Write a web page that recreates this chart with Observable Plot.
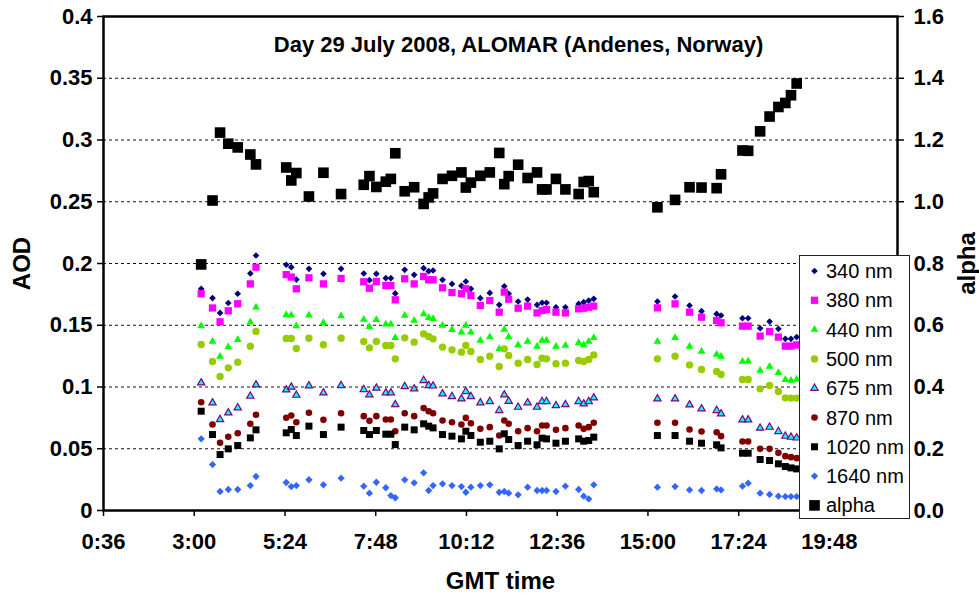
<!DOCTYPE html>
<html>
<head>
<meta charset="utf-8">
<script src="https://cdn.jsdelivr.net/npm/d3@7"></script>
<script src="https://cdn.jsdelivr.net/npm/@observablehq/plot@0.6"></script>
<style>
  body { margin: 0; background: #fff; }
  #wrap { position: relative; width: 979px; height: 594px; overflow: hidden; }
  #legend { position: absolute; left: 0; top: 0; }
</style>
</head>
<body>
<div id="wrap"></div>
<script>
// ---------- data ----------
const times = ["3:11","3:29","3:41","3:54","4:09","4:29","4:38","5:26","5:34","5:42",
  "6:02","6:25","6:53","7:29","7:38","7:49","8:04","8:12","8:19","8:34",
  "8:49","9:04","9:12","9:19","9:34","9:49","10:04","10:11","10:19","10:34",
  "10:49","11:04","11:12","11:19","11:34","11:49","12:04","12:12","12:19","12:34",
  "12:49","13:10","13:18","13:26","13:34",
  "15:15","15:43","16:06","16:25","16:49","16:56","17:30","17:39","17:58","18:13",
  "18:27","18:38","18:47","18:56"];

const aod340 = [0.1795,0.172,0.160,0.168,0.1755,0.192,0.2065,0.199,0.197,0.187,
  0.1957,0.1916,0.1957,0.1919,0.1865,0.1916,0.1881,0.1881,0.1758,0.1949,
  0.1908,0.1962,0.1938,0.1943,0.1868,0.1835,0.1819,0.1854,0.1795,0.1719,
  0.1762,0.1665,0.1816,0.1755,0.1692,0.1708,0.1665,0.1682,0.1682,0.1646,
  0.1646,0.1673,0.1687,0.170,0.1714,
  0.1692,0.1733,0.166,0.1614,0.1592,0.1579,0.1557,0.1557,0.1476,0.153,
  0.1471,0.139,0.139,0.1404];
const aod380 = [0.1755,0.164,0.1528,0.1617,0.1674,0.1835,0.197,0.191,0.189,0.1795,
  0.1884,0.1835,0.1879,0.1852,0.180,0.1854,0.1822,0.1822,0.1706,0.1876,
  0.1835,0.1895,0.1868,0.1868,0.1803,0.1765,0.1755,0.1795,0.1741,0.166,
  0.170,0.1606,0.1768,0.1711,0.1638,0.1655,0.160,0.1619,0.1628,0.1606,
  0.160,0.1633,0.1638,0.1646,0.1655,
  0.1641,0.1673,0.1606,0.1565,0.1538,0.152,0.1493,0.1493,0.1412,0.1449,
  0.1404,0.1331,0.1331,0.1341];
const aod440 = [0.1493,0.1368,0.1247,0.1323,0.1382,0.1525,0.1646,0.1584,0.158,0.1493,
  0.158,0.152,0.1574,0.1547,0.1487,0.1544,0.1508,0.1508,0.1398,0.1579,
  0.1538,0.1592,0.156,0.1552,0.1498,0.1463,0.1444,0.1498,0.1444,0.1377,
  0.1404,0.1309,0.1466,0.1404,0.1341,0.1368,0.1328,0.1377,0.1377,0.1328,
  0.1336,0.1358,0.1341,0.1368,0.1398,
  0.1368,0.1398,0.1328,0.1287,0.1263,0.1247,0.1206,0.1209,0.1134,0.1166,
  0.1115,0.1058,0.1053,0.1061];
const aod500 = [0.1344,0.1206,0.1085,0.1155,0.1201,0.133,0.1449,0.1393,0.1393,0.1312,
  0.1395,0.1342,0.1395,0.1368,0.1317,0.1368,0.1336,0.1336,0.1228,0.1398,
  0.1363,0.143,0.1409,0.139,0.1323,0.1301,0.1282,0.1336,0.1288,0.1223,
  0.125,0.1166,0.1309,0.1255,0.1193,0.1223,0.1182,0.1233,0.1228,0.1188,
  0.1193,0.1215,0.1206,0.1223,0.126,
  0.1228,0.125,0.1179,0.1142,0.1125,0.1101,0.1061,0.1061,0.0985,0.1012,
  0.0964,0.0912,0.091,0.091];
const aod675 = [0.1034,0.0872,0.0737,0.0791,0.0832,0.0926,0.1018,0.0977,0.0999,0.0934,
  0.101,0.0953,0.1012,0.098,0.0937,0.0991,0.0953,0.0953,0.0858,0.1004,
  0.0985,0.1053,0.1012,0.1009,0.0945,0.0923,0.0904,0.0964,0.0923,0.0872,
  0.0883,0.081,0.0937,0.0885,0.0837,0.0872,0.0837,0.0883,0.0883,0.085,
  0.0858,0.0883,0.0864,0.0883,0.0912,
  0.0904,0.0904,0.0856,0.0823,0.081,0.0783,0.0734,0.0734,0.0667,0.0675,
  0.064,0.0602,0.0594,0.0588];
const aod870 = [0.0877,0.0696,0.0548,0.0597,0.0626,0.0702,0.0775,0.0751,0.0769,0.0715,
  0.0791,0.0734,0.0788,0.0764,0.0726,0.0764,0.0737,0.0737,0.0642,0.0788,
  0.0764,0.0829,0.0804,0.0788,0.0729,0.0715,0.0696,0.075,0.0707,0.0661,
  0.0675,0.0607,0.0729,0.0702,0.0642,0.0667,0.0642,0.0688,0.0688,0.0653,
  0.0667,0.0688,0.0661,0.0675,0.071,
  0.071,0.071,0.0656,0.064,0.0634,0.0602,0.0559,0.0559,0.0499,0.0499,
  0.0467,0.044,0.0432,0.0424];
const aod1020 = [0.0804,0.0615,0.0453,0.0499,0.0526,0.0588,0.0653,0.0629,0.0656,0.0607,
  0.0683,0.0615,0.0675,0.0648,0.0615,0.0648,0.0618,0.0618,0.0534,0.0675,
  0.0653,0.0702,0.0683,0.0669,0.0615,0.0602,0.058,0.0642,0.0607,0.0553,
  0.0561,0.0499,0.0621,0.0575,0.0526,0.0561,0.0532,0.0586,0.058,0.0545,
  0.0561,0.058,0.0561,0.0567,0.0594,
  0.0607,0.0607,0.0561,0.0545,0.0532,0.0507,0.0464,0.0464,0.0413,0.0405,
  0.0378,0.0356,0.0345,0.0337];
const aod1640 = [0.058,0.0372,0.0154,0.017,0.017,0.0202,0.0275,0.0227,0.0194,0.0202,
  0.0249,0.0208,0.0262,0.0197,0.014,0.0229,0.0184,0.0121,0.0103,0.0248,
  0.0224,0.0305,0.0162,0.0202,0.0216,0.0202,0.0194,0.0148,0.0189,0.0202,
  0.0208,0.0148,0.0154,0.014,0.0127,0.0189,0.0162,0.0162,0.0162,0.0154,
  0.0197,0.017,0.0116,0.0094,0.0208,
  0.0189,0.0194,0.0167,0.0162,0.0175,0.0167,0.0197,0.0221,0.014,0.013,
  0.0116,0.0113,0.0113,0.0113];
const alpha = [0.797,1.004,1.224,1.188,1.176,1.153,1.121,1.111,1.069,1.093,
  1.017,1.094,1.025,1.055,1.083,1.048,1.065,1.074,1.157,1.034,
  1.047,0.993,1.014,1.027,1.074,1.084,1.095,1.046,1.062,1.084,
  1.095,1.158,1.057,1.083,1.120,1.077,1.095,1.040,1.040,1.074,
  1.040,1.025,1.064,1.067,1.031,
  0.982,1.006,1.047,1.046,1.044,1.089,1.166,1.165,1.228,1.276,
  1.307,1.320,1.345,1.383];

const seriesNames = ["340 nm","380 nm","440 nm","500 nm","675 nm","870 nm","1020 nm","1640 nm","alpha"];
const aodTicks = [0, 0.05, 0.1, 0.15, 0.2, 0.25, 0.3, 0.35, 0.4];
const alphaTicks = [0, 0.2, 0.4, 0.6, 0.8, 1.0, 1.2, 1.4, 1.6];
const xTickLabels = ["0:36","3:00","5:24","7:48","10:12","12:36","15:00","17:24","19:48"];
const titleText = "Day 29 July 2008, ALOMAR (Andenes, Norway)";
const xTitle = "GMT time", yTitle = "AOD", y2Title = "alpha";

// ---------- helpers ----------
const toH = s => { const [h, m] = s.split(":").map(Number); return h + m / 60; };
const fmtTime = h => { const tot = Math.round(h * 60); return Math.floor(tot / 60) + ":" + String(tot % 60).padStart(2, "0"); };
const ALPHA_FACTOR = 4; // right axis 0..1.6 maps to left 0..0.4

const styles = [
  {symbol: "diamond2", fill: "#000080", stroke: "none", r: 3.0},
  {symbol: "square",   fill: "#FF00FF", stroke: "none", r: 4.1},
  {symbol: "triangle", fill: "#00FF00", stroke: "none", r: 2.9},
  {symbol: "circle",   fill: "#99CC00", stroke: "none", r: 3.7},
  {symbol: "triangle", fill: "#00FFFF", stroke: "#800080", r: 2.7, strokeWidth: 1.2},
  {symbol: "circle",   fill: "#800000", stroke: "none", r: 3.3},
  {symbol: "square",   fill: "#000000", stroke: "none", r: 3.95},
  {symbol: "diamond2", fill: "#3366FF", stroke: "none", r: 3.3},
  {symbol: "square",   fill: "#000000", stroke: "none", r: 6.0}
];
const valueSets = [aod340, aod380, aod440, aod500, aod675, aod870, aod1020, aod1640, alpha.map(a => a / ALPHA_FACTOR)];

const FONT = "'Liberation Sans', Arial, Helvetica, sans-serif";

const dotMarks = valueSets.map((vals, k) => {
  const st = styles[k];
  const rows = times.map((t, i) => ({t: toH(t), v: vals[i]}));
  return Plot.dot(rows, {x: "t", y: "v", symbol: st.symbol, r: st.r, fill: st.fill,
    stroke: st.stroke, strokeWidth: st.strokeWidth || 0});
});

const chart = Plot.plot({
  width: 979, height: 594,
  marginLeft: 103, marginRight: 82, marginTop: 16, marginBottom: 84,
  style: {fontFamily: FONT, color: "#000", background: "#fff", overflow: "visible"},
  x: {domain: [0.6, 21.6]},
  y: {domain: [0, 0.4]},
  marks: [
    Plot.ruleY(aodTicks.filter(v => v > 0 && v < 0.4), {stroke: "#111", strokeWidth: 1, strokeDasharray: "3,3"}),
    ...dotMarks,
    Plot.frame({stroke: "#000", strokeWidth: 2.5}),
    Plot.axisY({anchor: "left", ticks: aodTicks, tickFormat: d => String(+d.toFixed(2)),
      tickSize: 6, tickPadding: 5, fontSize: 22, fontWeight: "bold", label: null, strokeWidth: 1.5}),
    Plot.axisY({anchor: "right", ticks: alphaTicks.map(a => a / ALPHA_FACTOR),
      tickFormat: d => (d * ALPHA_FACTOR).toFixed(1),
      tickSize: 6, tickPadding: 10, fontSize: 22, fontWeight: "bold", label: null, strokeWidth: 1.5}),
    Plot.axisX({ticks: xTickLabels.map(toH), tickFormat: fmtTime,
      tickSize: 6, tickPadding: 17, fontSize: 22, fontWeight: "bold", label: null, strokeWidth: 1.5}),
    Plot.text([titleText], {text: d => d, frameAnchor: "top", dx: 18, dy: 28, lineAnchor: "middle",
      fontSize: 22, fontWeight: "bold"}),
    Plot.text([xTitle], {text: d => d, frameAnchor: "bottom", dy: 71, lineAnchor: "middle",
      fontSize: 24, fontWeight: "bold"}),
    Plot.text([yTitle], {text: d => d, frameAnchor: "left", dx: -81, rotate: -90, lineAnchor: "middle",
      textAnchor: "middle", fontSize: 24, fontWeight: "bold"}),
    Plot.text([y2Title], {text: d => d, frameAnchor: "right", dx: 70, rotate: -90, lineAnchor: "middle",
      textAnchor: "middle", fontSize: 24, fontWeight: "bold"})
  ]
});
document.getElementById("wrap").appendChild(chart);

// ---------- legend ----------
const symMap = {diamond2: d3.symbolDiamond2, square: d3.symbolSquare, triangle: d3.symbolTriangle, circle: d3.symbolCircle};
const lg = d3.select("#wrap").append("svg").attr("id", "legend")
  .attr("width", 979).attr("height", 594).style("pointer-events", "none");
const L = {x: 799, y: 255, w: 110, h: 263, row0: 271, step: 29.3, symX: 814.5, textX: 826};
lg.append("rect").attr("x", L.x + 0.5).attr("y", L.y + 0.5).attr("width", L.w).attr("height", L.h)
  .attr("fill", "#fff").attr("stroke", "#222").attr("stroke-width", 1);
seriesNames.forEach((name, k) => {
  const st = styles[k];
  const cy = L.row0 + k * L.step;
  lg.append("path")
    .attr("d", d3.symbol(symMap[st.symbol], Math.PI * st.r * st.r)())
    .attr("transform", `translate(${L.symX},${cy})`)
    .attr("fill", st.fill).attr("stroke", st.stroke).attr("stroke-width", st.strokeWidth || 0);
  lg.append("text").attr("x", L.textX).attr("y", cy).attr("dy", "0.35em")
    .attr("font-family", FONT).attr("font-size", 20).attr("fill", "#000").text(name);
});
</script>
</body>
</html>
